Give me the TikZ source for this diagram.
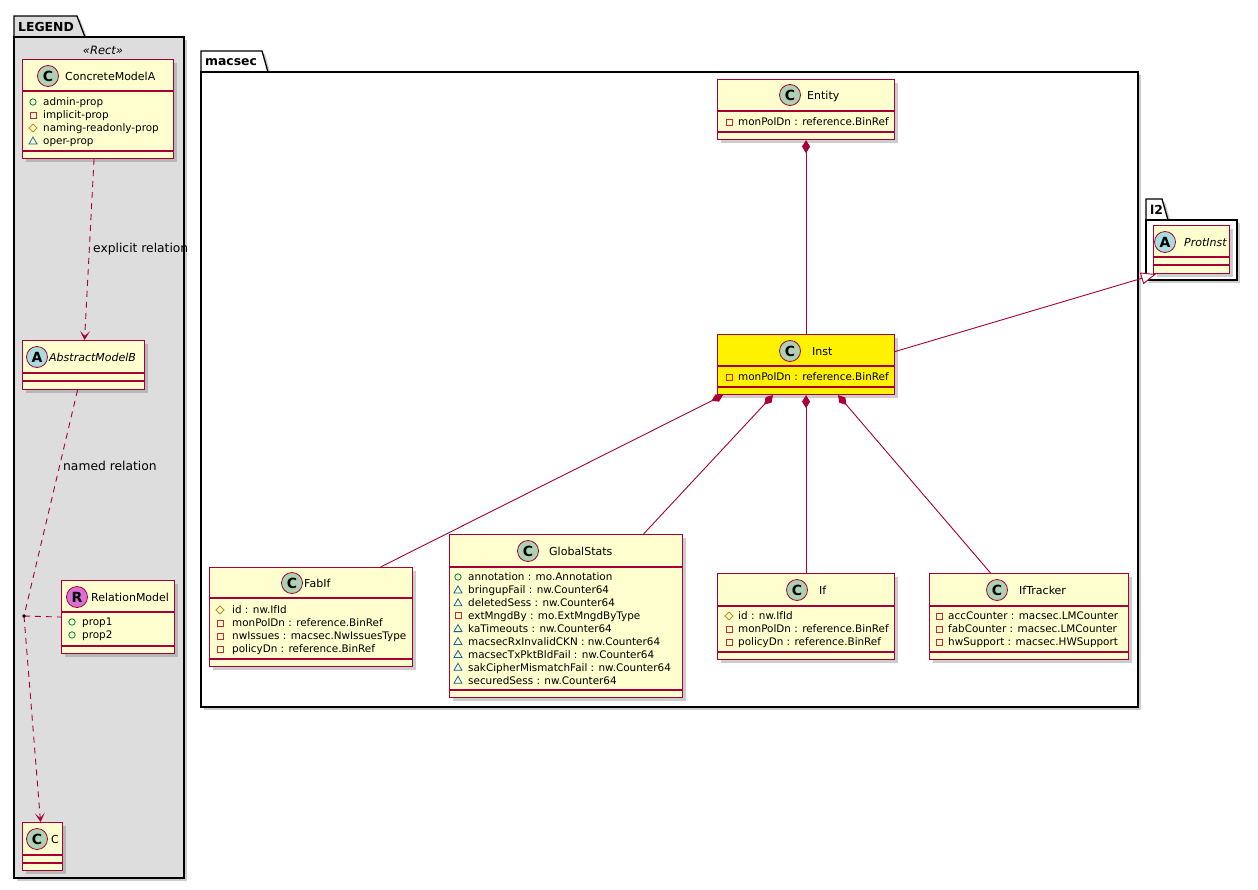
\documentclass[tikz,border=0pt]{standalone}
\usepackage{fontspec}
\setmainfont{DejaVu Sans}
\usepackage{xcolor}
\usepackage{tikz}
\usetikzlibrary{arrows.meta,shadows}

\definecolor{umlred}{HTML}{A80036}
\definecolor{umlfill}{HTML}{FEFECE}
\definecolor{legendgray}{HTML}{DDDDDD}
\definecolor{stampC}{HTML}{ADD1B2}
\definecolor{stampA}{HTML}{A9DCDF}
\definecolor{stampR}{HTML}{DA70D6}
\definecolor{vispub}{HTML}{038048}
\definecolor{vispriv}{HTML}{C82930}
\definecolor{visprot}{HTML}{B38D22}
\definecolor{vispkg}{HTML}{1963A0}

\begin{document}
\begin{tikzpicture}[x=1pt, y=-1pt,
    umlclass/.style={draw=umlred, fill=umlfill, line width=1.1pt, inner sep=0, anchor=north west,
      drop shadow={shadow xshift=3pt, shadow yshift=-3pt, fill=black!50, opacity=.4}},
    umlsep/.style={umlred, line width=1.1pt},
    stamp/.style={circle, draw=umlred, line width=0.8pt, minimum size=21, inner sep=0,
      font=\fontsize{14}{14}\selectfont\bfseries},
    cname/.style={font=\fontsize{11}{13}\selectfont, anchor=west, inner sep=0, text height=8pt, text depth=0pt},
    cnameit/.style={cname, font=\fontsize{11}{13}\selectfont\itshape},
    umlattr/.style={font=\fontsize{10.4}{12}\selectfont, anchor=west, inner sep=0, text height=7.6pt, text depth=0pt},
    rellabel/.style={font=\fontsize{12.3}{14}\selectfont, anchor=west, inner sep=0},
    pkgname/.style={font=\fontsize{12.4}{14}\selectfont\bfseries, anchor=west, inner sep=0},
    pkgbox/.style={draw=black, line width=1.3pt,
      drop shadow={shadow xshift=3pt, shadow yshift=-3pt, fill=black!50, opacity=.4}},
    umllink/.style={umlred, line width=0.9pt},
    umldep/.style={umllink, dash pattern=on 6pt off 5pt},
    pub/.pic={\draw[vispub, line width=0.8pt] (0,0) circle (3.2);},
    priv/.pic={\draw[vispriv, line width=0.8pt] (-3,-3) rectangle (3,3);},
    prot/.pic={\draw[visprot, line width=0.8pt] (0,-4) -- (4,0) -- (0,4) -- (-4,0) -- cycle;},
    pkgvis/.pic={\draw[vispkg, line width=0.8pt] (-4,3) -- (4,3) -- (0,-4) -- cycle;}
  ]
  \useasboundingbox (0,0) rectangle (1258,889);

  % packages
  \draw[pkgbox, fill=legendgray] (14,37) -- (14,16) -- (77,16) -- (85,37) -- cycle;
  \draw[pkgbox, fill=legendgray] (14,37) rectangle (184,878);
  \node[pkgname] (legendName) at (18,27) {LEGEND};
  \node[font=\fontsize{11.5}{13}\selectfont\itshape, inner sep=0] (rectStereo) at (103,50) {«Rect»};

  \draw[pkgbox, fill=white] (201,72) -- (201,51) -- (262,51) -- (268,72) -- cycle;
  \draw[pkgbox, fill=white] (201,72) rectangle (1138,707);
  \node[pkgname] (macsecName) at (205,62) {macsec};

  \draw[pkgbox, fill=white] (1146,220) -- (1146,199) -- (1162,199) -- (1168,220) -- cycle;
  \draw[pkgbox, fill=white] (1146,220) rectangle (1237,280);
  \node[pkgname] (ltwoName) at (1150,210) {l2};

  % legend classes
  \node[umlclass, minimum width=151, minimum height=99] (cma) at (22,59) {};
  \node[stamp, fill=stampC] (cmaStamp) at (48,76) {C};
  \node[cname] (cmaName) at (65,76) {ConcreteModelA};
  \draw[umlsep] (22,91) -- (173,91) (22,151) -- (173,151);
  \foreach \v/\t [count=\i] in {pub/admin-prop, priv/implicit-prop, prot/naming-readonly-prop, pkgvis/oper-prop}
    {\pic at (33,89+13*\i) {\v}; \node[umlattr] (cmaAttr\i) at (43,89+13*\i) {\t};}

  \node[umlclass, minimum width=122, minimum height=49] (amb) at (22,340) {};
  \node[stamp, fill=stampA] (ambStamp) at (37,357) {A};
  \node[cnameit] (ambName) at (49,357) {AbstractModelB};
  \draw[umlsep] (22,373) -- (144,373) (22,381) -- (144,381);

  \node[umlclass, minimum width=113, minimum height=73] (relm) at (61,580) {};
  \node[stamp, fill=stampR] (relmStamp) at (77,597) {R};
  \node[cname] (relmName) at (91,597) {RelationModel};
  \draw[umlsep] (61,612) -- (174,612) (61,646) -- (174,646);
  \foreach \v/\t [count=\i] in {pub/prop1, pub/prop2}
    {\pic at (72,609+13*\i) {\v}; \node[umlattr] (relmAttr\i) at (82,609+13*\i) {\t};}

  \node[umlclass, minimum width=40, minimum height=48] (cc) at (22,822) {};
  \node[stamp, fill=stampC] (ccStamp) at (37,839) {C};
  \node[cname] (ccName) at (51,839) {C};
  \draw[umlsep] (22,855) -- (62,855) (22,863) -- (62,863);

  % legend relations
  \coordinate (assocDot) at (24,616);
  \draw[umldep, -{Stealth[length=9pt,width=10pt,inset=5pt]}] ([xshift=-4pt]cma.south) -- ([xshift=1pt]amb.north);
  \node[rellabel] (explicitLbl) at (93,249) {explicit relation};
  \draw[umldep] ([xshift=-6pt]amb.south) -- (assocDot);
  \draw[umldep, -{Stealth[length=9pt,width=10pt,inset=5pt]}] (assocDot) -- ([xshift=-2pt]cc.north);
  \draw[umldep] (assocDot) -- (relm.west);
  \fill[black] (assocDot) circle (1.8);
  \node[rellabel] (namedLbl) at (63,466) {named relation};

  % macsec classes
  \node[umlclass, minimum width=177, minimum height=60] (entity) at (717,79) {};
  \node[stamp, fill=stampC] (entityStamp) at (790,95) {C};
  \node[cname] (entityName) at (807,95) {Entity};
  \draw[umlsep] (717,111) -- (894,111) (717,132) -- (894,132);
  \pic at (729,122) {priv};
  \node[umlattr] (entityAttr) at (738,122) {monPolDn : reference.BinRef};

  \node[umlclass, fill=yellow, minimum width=177, minimum height=60] (inst) at (717,334) {};
  \node[stamp, fill=stampC] (instStamp) at (790,351) {C};
  \node[cname] (instName) at (812,351) {Inst};
  \draw[umlsep] (717,366) -- (894,366) (717,387) -- (894,387);
  \pic at (729,377) {priv};
  \node[umlattr] (instAttr) at (738,377) {monPolDn : reference.BinRef};

  \node[umlclass, minimum width=76, minimum height=48] (protinst) at (1153,225) {};
  \node[stamp, fill=stampA] (protStamp) at (1165,242) {A};
  \node[cnameit] (protName) at (1184,242) {ProtInst};
  \draw[umlsep] (1153,257) -- (1229,257) (1153,265) -- (1229,265);

  \node[umlclass, minimum width=203, minimum height=99] (fabif) at (209,567) {};
  \node[stamp, fill=stampC] (fabifStamp) at (292,583) {C};
  \node[cname] (fabifName) at (304,583) {FabIf};
  \draw[umlsep] (209,598) -- (412,598) (209,659) -- (412,659);
  \foreach \v/\t [count=\i] in {prot/id : nw.IfId, priv/monPolDn : reference.BinRef,
      priv/nwIssues : macsec.NwIssuesType, priv/policyDn : reference.BinRef}
    {\pic at (220,597+13*\i) {\v}; \node[umlattr] (fabifAttr\i) at (232,597+13*\i) {\t};}

  \node[umlclass, minimum width=233, minimum height=163] (gstats) at (449,534) {};
  \node[stamp, fill=stampC] (gstatsStamp) at (528,551) {C};
  \node[cname] (gstatsName) at (549,551) {GlobalStats};
  \draw[umlsep] (449,567) -- (682,567) (449,690) -- (682,690);
  \foreach \v/\t [count=\i] in {pub/annotation : mo.Annotation, pkgvis/bringupFail : nw.Counter64,
      pkgvis/deletedSess : nw.Counter64, priv/extMngdBy : mo.ExtMngdByType,
      pkgvis/kaTimeouts : nw.Counter64, pkgvis/macsecRxInvalidCKN : nw.Counter64,
      pkgvis/macsecTxPktBldFail : nw.Counter64, pkgvis/sakCipherMismatchFail : nw.Counter64,
      pkgvis/securedSess : nw.Counter64}
    {\pic at (458,564.1+12.9*\i) {\v}; \node[umlattr] (gstatsAttr\i) at (468,564.1+12.9*\i) {\t};}

  \node[umlclass, minimum width=177, minimum height=86] (ifc) at (717,573) {};
  \node[stamp, fill=stampC] (ifcStamp) at (797,590) {C};
  \node[cname] (ifcName) at (819,590) {If};
  \draw[umlsep] (717,606) -- (894,606) (717,652) -- (894,652);
  \foreach \v/\t [count=\i] in {prot/id : nw.IfId, priv/monPolDn : reference.BinRef, priv/policyDn : reference.BinRef}
    {\pic at (729,603+13*\i) {\v}; \node[umlattr] (ifcAttr\i) at (738,603+13*\i) {\t};}

  \node[umlclass, minimum width=199, minimum height=86] (iftr) at (929,573) {};
  \node[stamp, fill=stampC] (iftrStamp) at (997,590) {C};
  \node[cname] (iftrName) at (1019,590) {IfTracker};
  \draw[umlsep] (929,606) -- (1128,606) (929,652) -- (1128,652);
  \foreach \v/\t [count=\i] in {priv/accCounter : macsec.LMCounter, priv/fabCounter : macsec.LMCounter,
      priv/hwSupport : macsec.HWSupport}
    {\pic at (939,603+13*\i) {\v}; \node[umlattr] (iftrAttr\i) at (948,603+13*\i) {\t};}

  % relations
  \draw[umllink, {Diamond[length=13pt,width=8pt]}-] (entity.south) -- (inst.north);
  \draw[umllink, {Diamond[length=13pt,width=8pt]}-] ([xshift=6pt]inst.south west) -- ([xshift=69.5pt]fabif.north);
  \draw[umllink, {Diamond[length=13pt,width=8pt]}-] ([xshift=56pt]inst.south west) -- ([xshift=77.5pt]gstats.north);
  \draw[umllink, {Diamond[length=13pt,width=8pt]}-] (inst.south) -- (ifc.north);
  \draw[umllink, {Diamond[length=13pt,width=8pt]}-] ([xshift=32pt]inst.south) -- ([xshift=-38.5pt]iftr.north);
  \draw[umllink, -{Triangle[length=15pt,width=12pt,fill=white]}] ([yshift=13pt]inst.east) -- ([xshift=3pt]protinst.south west);
\end{tikzpicture}
\end{document}
